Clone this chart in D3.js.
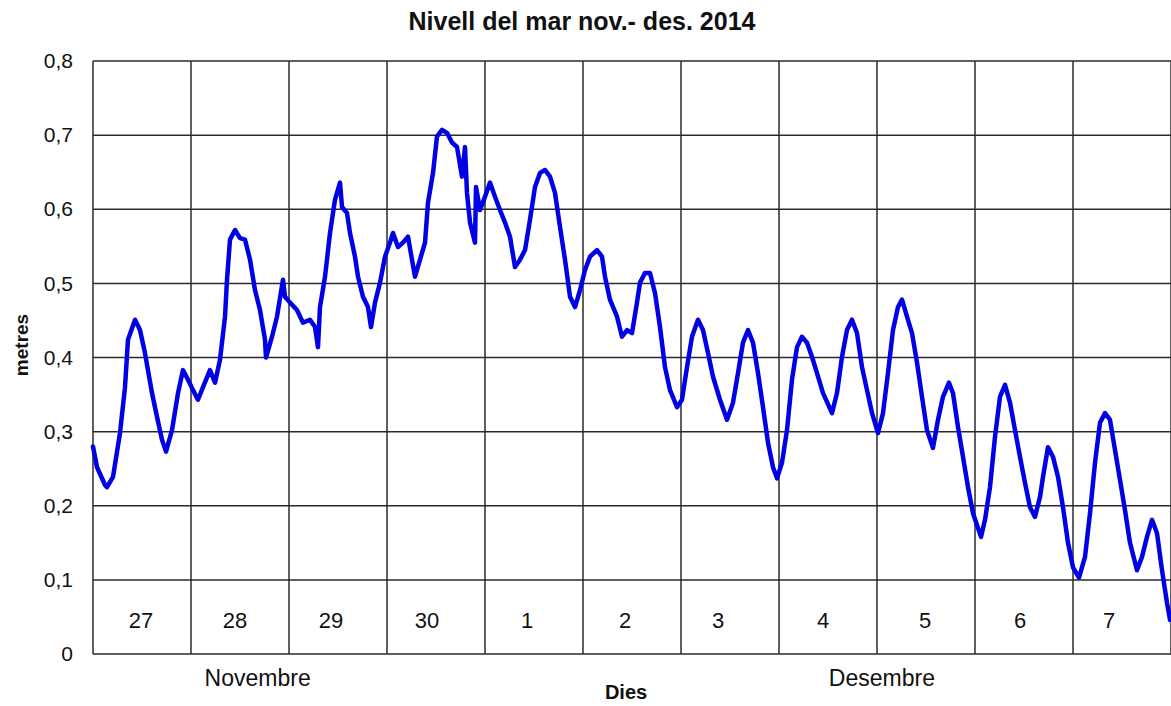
<!DOCTYPE html>
<html>
<head>
<meta charset="utf-8">
<script src="https://cdn.jsdelivr.net/npm/d3@7"></script>
<style>
  html, body { margin: 0; padding: 0; background: #fff; }
  svg { display: block; font-family: "Liberation Sans", Arial, sans-serif; }
</style>
</head>
<body>
<div id="chart"></div>
<script>
// hours since 27 Nov 2014 00:00
const hours = [
  0, 0.98, 2.94, 3.43, 4.9, 6.61, 7.84, 8.57, 10.29, 11.51, 12.73, 14.45, 15.67, 16.9, 17.88, 19.35, 20.82, 22.04, 23.27,
  24.49, 25.71, 26.94, 28.65, 29.88, 31.1, 32.33, 32.82, 33.55, 34.78, 36, 37.22, 38.45, 39.67, 40.9, 42.12, 42.37, 43.84, 45.06, 46.53,
  47.02, 48.25, 49.96, 51.43, 53.14, 54.37, 55.1, 55.59, 56.82, 58.04, 59.27, 60.49, 60.98, 62.2, 62.94, 64.16, 64.9, 66.12, 67.35, 68.08,
  69.06, 70.29, 71.51, 72.73, 73.47, 74.69, 75.92, 77.14, 78.12, 78.86, 80.08, 81.31, 82.04, 83.27, 84.24, 85.47, 86.69, 87.92, 89.14,
  90.37, 91.1, 91.59, 92.33, 93.55, 93.8, 94.78, 96, 97.22, 98.45, 99.67, 100.9, 102.12, 103.35, 104.57, 105.8, 107.02, 108.24, 109.47,
  110.69, 111.92, 113.14, 114.37, 115.59, 116.82, 118.04, 119.27, 120.49, 121.71, 123.43, 124.65, 125.39, 126.61, 128.33, 129.55,
  130.78, 132, 133.22, 133.96, 135.18, 136.41, 137.63, 138.86, 140.08, 141.31, 143.02, 144.24, 145.47, 146.69, 148.16, 149.39,
  150.61, 151.84, 153.55, 155.27, 156.73, 157.96, 159.18, 160.41, 161.63, 162.86, 164.08, 165.31, 166.53, 167.51, 168.73, 169.96,
  171.18, 172.41, 173.63, 174.86, 176.08, 177.31, 178.78, 180.98, 182.2, 183.43, 184.65, 185.88, 187.1, 188.33, 189.55, 190.78,
  192.24, 193.47, 194.69, 195.92, 197.14, 198.12, 199.35, 200.57, 201.8, 203.02, 204.24, 205.71, 206.94, 208.16, 209.63, 210.61,
  211.84, 213.06, 214.29, 215.51, 217.47, 218.45, 219.67, 220.9, 222.12, 223.35, 224.57, 225.8, 227.02, 228.24, 229.47, 230.69,
  231.92, 232.65, 233.88, 235.1, 236.33, 237.55, 238.78, 240, 241.47, 242.94, 244.16, 245.39, 246.61, 247.84, 249.06, 250.29,
  251.51, 252.73, 253.96, 255.67, 256.9, 258.12, 259.35, 260.57, 261.8, 263.02, 263.76
];

// sea level, metres
const levels = [
  0.28, 0.252, 0.228, 0.225, 0.239, 0.298, 0.36, 0.424, 0.451, 0.437, 0.406, 0.352, 0.32, 0.289, 0.273, 0.302, 0.352, 0.383, 0.37,
  0.356, 0.343, 0.36, 0.383, 0.366, 0.397, 0.455, 0.505, 0.559, 0.572, 0.561, 0.559, 0.532, 0.491, 0.464, 0.424, 0.4, 0.428, 0.455, 0.505,
  0.482, 0.474, 0.464, 0.447, 0.451, 0.441, 0.414, 0.468, 0.509, 0.568, 0.613, 0.636, 0.603, 0.595, 0.568, 0.536, 0.509, 0.482, 0.468, 0.441,
  0.474, 0.501, 0.536, 0.555, 0.568, 0.549, 0.555, 0.563, 0.532, 0.509, 0.532, 0.555, 0.609, 0.649, 0.698, 0.707, 0.703, 0.69, 0.684,
  0.644, 0.684, 0.622, 0.582, 0.555, 0.63, 0.599, 0.617, 0.636, 0.617, 0.599, 0.582, 0.563, 0.522, 0.532, 0.545, 0.586, 0.63, 0.649,
  0.653, 0.644, 0.622, 0.576, 0.532, 0.482, 0.468, 0.491, 0.518, 0.536, 0.545, 0.536, 0.509, 0.478, 0.455, 0.428,
  0.437, 0.433, 0.474, 0.501, 0.514, 0.514, 0.487, 0.441, 0.387, 0.356, 0.333, 0.343, 0.387, 0.428, 0.451, 0.437,
  0.406, 0.374, 0.343, 0.316, 0.339, 0.379, 0.42, 0.437, 0.42, 0.379, 0.333, 0.285, 0.252, 0.237, 0.258, 0.302,
  0.37, 0.414, 0.428, 0.42, 0.401, 0.379, 0.352, 0.325, 0.352, 0.401, 0.437, 0.451, 0.433, 0.387, 0.356, 0.325,
  0.298, 0.325, 0.379, 0.437, 0.468, 0.478, 0.455, 0.433, 0.393, 0.347, 0.302, 0.278, 0.316, 0.347, 0.366, 0.352,
  0.306, 0.266, 0.225, 0.19, 0.158, 0.181, 0.225, 0.293, 0.347, 0.363, 0.339, 0.302, 0.266, 0.231, 0.198, 0.185,
  0.212, 0.239, 0.279, 0.266, 0.239, 0.198, 0.15, 0.117, 0.103, 0.131, 0.19, 0.258, 0.312, 0.325, 0.316, 0.275,
  0.235, 0.194, 0.15, 0.113, 0.131, 0.158, 0.181, 0.163, 0.113, 0.069, 0.046
];

const dayLabels = ["27", "28", "29", "30", "1", "2", "3", "4", "5", "6", "7"];
const monthLabels = ["Novembre", "Desembre"];
const yTicks = [0, 0.1, 0.2, 0.3, 0.4, 0.5, 0.6, 0.7, 0.8];

const width = 1171, height = 706;
const margin = { top: 61, right: 0, bottom: 52, left: 93 };

const svg = d3.select("#chart").append("svg")
  .attr("width", width)
  .attr("height", height);

const x = d3.scaleLinear()
  .domain([0, dayLabels.length * 24])
  .range([margin.left, width - margin.right]);

const y = d3.scaleLinear()
  .domain([0, 0.8])
  .range([height - margin.bottom, margin.top]);

const fmt = d => d === 0 ? "0" : d3.format(".1f")(d).replace(".", ",");

// grid
const grid = svg.append("g").attr("stroke", "#2a2a2a").attr("stroke-width", 1.5);

grid.selectAll(".h")
  .data(yTicks)
  .join("line")
  .attr("x1", x.range()[0]).attr("x2", x.range()[1])
  .attr("y1", d => y(d)).attr("y2", d => y(d));

grid.selectAll(".v")
  .data(d3.range(0, dayLabels.length + 1))
  .join("line")
  .attr("x1", d => x(d * 24)).attr("x2", d => x(d * 24))
  .attr("y1", y(0)).attr("y2", y(0.8));

// y axis labels
svg.append("g")
  .attr("transform", `translate(${margin.left},0)`)
  .call(d3.axisLeft(y).tickValues(yTicks).tickFormat(fmt).tickSize(0).tickPadding(20))
  .call(g => g.select(".domain").remove())
  .call(g => g.selectAll("text")
    .attr("font-size", 21)
    .attr("font-family", "Liberation Sans, Arial, sans-serif")
    .attr("fill", "#111"));

// day labels inside plot (text boxes sit a little left of the cell centre)
const labelShift = [-1, -5, -7, -9, -7, -7, -12, -5, -1, -4, -13];
svg.append("g")
  .selectAll("text")
  .data(dayLabels)
  .join("text")
  .attr("x", (d, i) => x(i * 24 + 12) + labelShift[i])
  .attr("y", y(0.045))
  .attr("dy", "0.35em")
  .attr("text-anchor", "middle")
  .attr("font-size", 22)
  .attr("fill", "#111")
  .text(d => d);

// month labels below the axis
const monthAt = [1.68, 8.05];
svg.append("g")
  .selectAll("text")
  .data(monthLabels)
  .join("text")
  .attr("x", (d, i) => x(monthAt[i] * 24))
  .attr("y", y(0) + 24)
  .attr("dy", "0.35em")
  .attr("text-anchor", "middle")
  .attr("font-size", 23)
  .attr("fill", "#111")
  .text(d => d);

// line
const line = d3.line()
  .x(d => x(d[0]))
  .y(d => y(d[1]));

svg.append("path")
  .datum(hours.map((h, i) => [h, levels[i]]))
  .attr("fill", "none")
  .attr("stroke", "#0000e6")
  .attr("stroke-width", 4.5)
  .attr("stroke-linejoin", "round")
  .attr("stroke-linecap", "round")
  .attr("d", line);

// titles
svg.append("text")
  .attr("x", 582)
  .attr("y", 30)
  .attr("text-anchor", "middle")
  .attr("font-size", 25)
  .attr("font-weight", "bold")
  .attr("fill", "#111")
  .text("Nivell del mar nov.- des. 2014");

svg.append("text")
  .attr("x", 626)
  .attr("y", 699)
  .attr("text-anchor", "middle")
  .attr("font-size", 20)
  .attr("font-weight", "bold")
  .attr("fill", "#111")
  .text("Dies");

svg.append("text")
  .attr("transform", `translate(28,345) rotate(-90)`)
  .attr("text-anchor", "middle")
  .attr("font-size", 19)
  .attr("font-weight", "bold")
  .attr("fill", "#111")
  .text("metres");
</script>
</body>
</html>
